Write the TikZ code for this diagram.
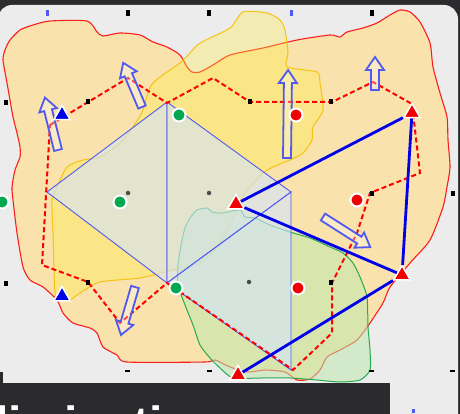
\documentclass[tikz,border=0pt]{standalone}
\usepackage{fontspec}
\newfontfamily\barfont{Liberation Sans}
\usetikzlibrary{shapes.geometric}
\definecolor{bgdark}{RGB}{43,43,45}
\definecolor{panel}{RGB}{236,236,236}
\definecolor{regred}{RGB}{249,226,172}
\definecolor{edgered}{RGB}{250,30,30}
\definecolor{regyel}{RGB}{255,238,60}
\definecolor{edgeyel}{RGB}{245,195,20}
\definecolor{reggrn}{RGB}{190,232,175}
\definecolor{edgegrn}{RGB}{40,170,80}
\definecolor{cellblue}{RGB}{212,228,250}
\definecolor{edgeblue}{RGB}{80,90,240}
\definecolor{mblue}{RGB}{0,0,235}
\definecolor{mred}{RGB}{240,0,0}
\definecolor{mgreen}{RGB}{0,168,80}
\tikzset{
 mktri/.style={regular polygon, regular polygon sides=3, minimum size=19pt, inner sep=0pt, draw=white, line width=1.5pt},
 redtri/.style={mktri, fill=mred},
 bluetri/.style={mktri, fill=mblue},
 mkdot/.style={circle, minimum size=13pt, inner sep=0pt, draw=white, line width=2pt},
 reddot/.style={mkdot, fill=mred},
 greendot/.style={mkdot, fill=mgreen},
 link/.style={mblue, line width=2.8pt},
 gridsq/.style={rectangle, fill=black, minimum width=4pt, minimum height=5pt, inner sep=0pt},
 gridbl/.style={rectangle, fill=edgeblue, minimum width=3pt, minimum height=6pt, inner sep=0pt},
 gridbk/.style={rectangle, fill=black, minimum width=4pt, minimum height=6pt, inner sep=0pt},
 griddash/.style={rectangle, fill=black, minimum width=5pt, minimum height=2pt, inner sep=0pt},
 gridx/.style={circle, fill=gray!60!black, minimum size=4.5pt, inner sep=0pt},
 hollow/.style={draw=edgeblue, line width=1.8pt, fill=white, fill opacity=0.3, line join=miter},
 route/.style={draw=red, line width=2pt, dash pattern=on 5pt off 3pt},
 regionR/.style={draw=edgered, line width=1.1pt, fill=regred},
 regionY/.style={draw=edgeyel, line width=1pt, fill=regyel, fill opacity=0.32},
 regionG/.style={draw=edgegrn, line width=1pt, fill=reggrn, fill opacity=0.55},
 cell/.style={draw=edgeblue, line width=0.9pt, fill=cellblue, fill opacity=0.62},
}
\newcommand{\harrow}[4]{%
 \begin{scope}[shift={(#1,#2)}, rotate=#3]
  \path[hollow] (0,-4) -- (#4-13,-4) -- (#4-13,-9) -- (#4,0) -- (#4-13,9) -- (#4-13,4) -- (0,4) -- cycle;
 \end{scope}}
\begin{document}
\begin{tikzpicture}[x=1pt,y=-1pt]
\useasboundingbox (0,0) rectangle (460,414);
\clip (0,0) rectangle (460,414);
\fill[bgdark] (-10,-10) rectangle (470,424);
\fill[panel, rounded corners=14pt] (-2,5) rectangle (458,430);
% red region
\path[regionR] plot[smooth cycle, tension=0.4] coordinates {
(33,25) (50,21) (87,21) (97,32) (103,36) (120,33) (140,35) (153,42) (167,47) (180,55) (187,67) (192,72) (200,72) (213,65) (230,55) (263,48) (297,40) (330,35) (340,37) (347,32) (363,28) (377,23) (390,15) (400,10) (410,12) (420,22) (430,43) (433,67) (440,93) (447,117) (448,140) (450,167) (447,187) (443,207) (430,240) (410,263) (390,287) (383,303) (370,323) (357,340) (340,350) (327,357) (320,370) (310,379) (297,380) (285,372) (265,370) (248,372) (230,367) (215,360) (205,362) (127,362) (117,355) (103,347) (97,333) (90,328) (73,323) (63,313) (57,300) (43,287) (30,280) (23,267) (17,233) (13,200) (12,187) (15,170) (20,157) (20,147) (17,133) (13,117) (10,100) (7,83) (3,60) (5,50) (10,40) (20,30)};
% yellow region
\path[regionY] plot[smooth cycle, tension=0.4] coordinates {
(243,12) (267,13) (280,20) (285,30) (288,53) (287,67) (317,72) (320,83) (323,110) (313,127) (312,140) (303,153) (290,160) (273,167) (263,173) (250,187) (240,200) (230,225) (215,250) (200,263) (173,270) (140,278) (100,282) (80,293) (70,300) (60,300) (55,293) (53,233) (52,200) (57,187) (67,167) (83,160) (100,157) (120,143) (133,127) (143,110) (150,87) (160,77) (180,63) (190,53) (200,43) (230,28)};
% green region
\path[regionG] plot[smooth cycle, tension=0.4] coordinates {
(197,210) (207,208) (212,212) (222,213) (240,210) (245,217) (255,218) (270,225) (290,232) (310,238) (330,247) (343,253) (353,263) (360,277) (367,297) (368,327) (370,350) (370,370) (360,380) (340,382) (317,380) (290,378) (260,378) (233,378) (220,368) (210,358) (200,345) (193,325) (185,305) (178,285) (178,265) (181,245) (185,228) (190,218)};
% blue cells
\path[cell] (47,192) -- (167,102) -- (167,283) -- cycle;
\path[cell] (167,102) -- (291,192) -- (167,283) -- cycle;
\path[cell] (167,283) -- (291,192) -- (291,370) -- cycle;
% red dashed route
\draw[route] (50,125) -- (128,78) -- (167,103) -- (213,78) -- (250,102) -- (332,102) -- (373,82) -- (412,104) -- (420,173) -- (370,193) -- (357,233) -- (332,283) -- (332,333) -- (293,370) -- (167,283) -- (120,323) -- (88,282) -- (42,265) -- cycle;
% grid markers
\node[gridbl] (t1) at (47,13) {};
\node[gridbk] (t2) at (128,13) {};
\node[gridbk] (t3) at (209,13) {};
\node[gridbl] (t4) at (291,13) {};
\node[gridbk] (t5) at (372,13) {};
\node[gridsq] (l1) at (6,103) {};
\node[gridsq] (l2) at (6,283) {};
\node[gridsq] (r1) at (453,193) {};
\node[griddash] (b1) at (127,371) {};
\node[griddash] (b2) at (209,371) {};
\node[griddash] (b3) at (371,371) {};
\node[griddash] (b4) at (452,371) {};
\node[gridbl, minimum height=4pt] (b5) at (413,411) {};
\node[gridsq] (g1) at (88,102) {};
\node[gridsq] (g2) at (250,102) {};
\node[gridsq] (g3) at (331,102) {};
\node[gridx] (g4) at (128,193) {};
\node[gridx] (g5) at (209,193) {};
\node[gridsq] (g6) at (372,193) {};
\node[gridsq] (g7) at (88,282) {};
\node[gridx] (g8) at (249,282) {};
\node[gridsq] (g9) at (331,282) {};
% hollow arrows
\harrow{58}{150}{104}{54}
\harrow{142}{107}{113}{48}
\harrow{287}{158}{89.3}{88}
\harrow{375}{90}{90}{33}
\harrow{323}{217}{-32.5}{56}
\harrow{135}{287}{-106.3}{50}
% markers
\node[redtri] (A) at (236,204) {};
\node[redtri] (B) at (412,113) {};
\node[redtri] (C) at (402,275) {};
\node[redtri] (D) at (238,375) {};
\node[bluetri] (P) at (62,115) {};
\node[bluetri] (Q) at (62,296) {};
\draw[link] (A) -- (B);
\draw[link] (B) -- (C);
\draw[link] (A) -- (C);
\draw[link] (D) -- (C);
\node[reddot] (r1c) at (296,115) {};
\node[reddot] (r2c) at (357,200) {};
\node[reddot] (r3c) at (298,288) {};
\node[greendot] (g1c) at (179,115) {};
\node[greendot] (g2c) at (120,202) {};
\node[greendot] (g3c) at (176,288) {};
\node[greendot] (g4c) at (2,202) {};
% bottom bar
\fill[bgdark] (0,383) rectangle (390,420);
\fill[bgdark] (0,372) rectangle (3,383);
\node[anchor=base west, text=white, font=\barfont\bfseries\fontsize{48}{48}\selectfont, inner sep=0pt] (title) at (-5,440) {limination};
\end{tikzpicture}
\end{document}
